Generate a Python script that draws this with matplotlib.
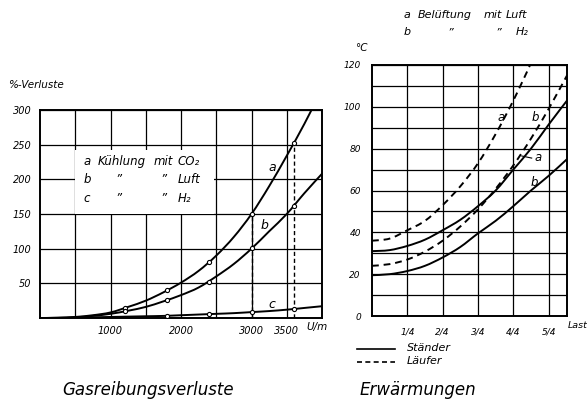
import matplotlib
matplotlib.use("Agg")
import matplotlib.pyplot as plt
from matplotlib.patches import Rectangle, PathPatch
from matplotlib.path import Path

# ---------------- data: left chart (Gasreibungsverluste) ----------------
rpm = [0, 250, 500, 750, 1000, 1250, 1500, 1750, 2000, 2250, 2500, 2750,
       3000, 3250, 3500, 3750, 4000]
loss_co2 = [0, 0.3, 1.5, 4, 8, 16, 25, 37, 51, 68, 90, 117, 150, 190, 234, 280, 330]
loss_luft = [0, 0.2, 1, 3, 6, 10.5, 16, 24, 33, 44, 60, 78, 100, 125, 150, 180, 208]
loss_h2 = [0, 0.2, 0.5, 1, 1.5, 2, 2.5, 3, 4, 5, 6, 7, 8.5, 10, 12, 14.5, 17]

pt_rpm = [1200, 1800, 2400, 3000, 3600]
pt_co2 = [15, 41, 81, 150, 252]
pt_luft = [10.5, 26, 52, 101, 162]
pt_rpm_h2 = [1800, 2400, 3000, 3600]
pt_h2 = [3.3, 5.2, 8, 12.8]

left_xticks = [500, 1000, 1500, 2000, 2500, 3000, 3500]
left_xlabels = ["", "1000", "", "2000", "", "3000", "3500"]
left_yticks = [50, 100, 150, 200, 250, 300]
left_ylabels = ["50", "100", "150", "200", "250", "300"]

# ---------------- data: right chart (Erwärmungen) ----------------
load = [0, 0.125, 0.25, 0.375, 0.5, 0.625, 0.75, 0.875, 1.0, 1.125, 1.25, 1.38]
staender_luft = [31, 31.5, 33.5, 36.5, 41, 46, 52.5, 60, 70, 80, 91.5, 103]
staender_h2 = [19.5, 20, 21.5, 24, 28, 33, 39.5, 45.5, 52.5, 60, 67, 75]
laeufer_luft = [36, 37, 41, 45.5, 53, 62, 73, 87, 103, 121, 141, 163]
laeufer_h2 = [24, 24.8, 27, 30.8, 36, 42.8, 51, 60.8, 72, 84.8, 99, 115]

right_xticks = [0.25, 0.5, 0.75, 1.0, 1.25]
right_xlabels = ["1/4", "2/4", "3/4", "4/4", "5/4"]
right_yticks = list(range(0, 121, 10))
right_ylabels = [str(v) if v % 20 == 0 else "" for v in right_yticks]

# ---------------- figure ----------------
W, H = 587, 400
fig = plt.figure(figsize=(W / 100, H / 100), dpi=100)
fig.patch.set_facecolor("white")
FAM = ["DejaVu Sans"]
IT = dict(family=FAM, style="italic", color="black")


def fx(px):
    return px / W


def fy(py):
    return 1 - py / H


def ftext(px, py, s, size, ha="left", va="center", **kw):
    fig.text(fx(px), fy(py), s, fontsize=size, ha=ha, va=va, **IT, **kw)


def smooth_curve(ax, xs, ys, **kw):
    """Draw a smooth (Catmull-Rom as cubic Bezier) line through the points."""
    pts = list(zip(xs, ys))
    n = len(pts)
    verts = [pts[0]]
    codes = [Path.MOVETO]
    for i in range(n - 1):
        p0 = pts[i - 1] if i > 0 else pts[i]
        p1 = pts[i]
        p2 = pts[i + 1]
        p3 = pts[i + 2] if i + 2 < n else pts[i + 1]
        c1 = (p1[0] + (p2[0] - p0[0]) / 6, p1[1] + (p2[1] - p0[1]) / 6)
        c2 = (p2[0] - (p3[0] - p1[0]) / 6, p2[1] - (p3[1] - p1[1]) / 6)
        verts += [c1, c2, p2]
        codes += [Path.CURVE4] * 3
    patch = PathPatch(Path(verts, codes), fill=False, **kw)
    ax.add_patch(patch)
    return patch


LW_CURVE = 1.4
GRID_LW = 0.9

# ----- left axes -----
axL = fig.add_axes([fx(40), fy(318), fx(322) - fx(40), fy(110) - fy(318)])
axL.set_xlim(0, 4000)
axL.set_ylim(0, 300)
axL.set_xticks(left_xticks)
axL.set_xticklabels(left_xlabels, fontsize=7, **IT)
axL.set_yticks(left_yticks)
axL.set_yticklabels(left_ylabels, fontsize=7, **IT)
axL.tick_params(length=0, pad=6)
axL.set_axisbelow(True)
axL.grid(True, color="black", lw=GRID_LW)
for s in axL.spines.values():
    s.set_linewidth(1.4)

axL.add_patch(Rectangle((500, 150), 1970, 93, facecolor="white",
                        edgecolor="none", zorder=1))

for series in (loss_co2, loss_luft, loss_h2):
    smooth_curve(axL, rpm, series, edgecolor="black", lw=LW_CURVE, zorder=3)
for xs, ys in ((pt_rpm, pt_co2), (pt_rpm, pt_luft), (pt_rpm_h2, pt_h2)):
    axL.plot(xs, ys, ls="none", marker="o", ms=3, mfc="white", mec="black",
             mew=0.8, zorder=4)
# dashed verticals up to curve a
for xv, yv in ((pt_rpm[3], pt_co2[3]), (pt_rpm[4], pt_co2[4])):
    axL.plot([xv, xv], [0, yv], color="black", lw=1.0, ls=(0, (3, 2)), zorder=2)

axL.text(3300, 217, "a", fontsize=9, ha="center", va="center", **IT, zorder=5)
axL.text(3180, 133, "b", fontsize=9, ha="center", va="center", **IT, zorder=5)
axL.text(3290, 19, "c", fontsize=9, ha="center", va="center", **IT, zorder=5)

rows = [(226, "a", "Kühlung", "mit", "CO₂"),
        (200, "b", "\u201d", "\u201d", "Luft"),
        (173, "c", "\u201d", "\u201d", "H₂")]
for yv, letter, w1, w2, gas in rows:
    axL.text(614, yv, letter, fontsize=8.5, ha="left", va="center", **IT, zorder=5)
    if w1 == "Kühlung":
        axL.text(814, yv, w1, fontsize=8.5, ha="left", va="center", **IT, zorder=5)
        axL.text(1610, yv, w2, fontsize=8.5, ha="left", va="center", **IT, zorder=5)
    else:
        axL.text(1114, yv, w1, fontsize=8.5, ha="center", va="center", **IT, zorder=5)
        axL.text(1757, yv, w2, fontsize=8.5, ha="center", va="center", **IT, zorder=5)
    axL.text(1950, yv, gas, fontsize=8.5, ha="left", va="center", **IT, zorder=5)

ftext(8, 85, "%-Verluste", 7.5)
ftext(306, 327, "U/m", 7.5)

# ----- right axes -----
axR = fig.add_axes([fx(372), fy(316), fx(567) - fx(372), fy(65) - fy(316)])
axR.set_xlim(0, 1.38)
axR.set_ylim(0, 120)
axR.set_xticks(right_xticks)
axR.set_xticklabels(right_xlabels, fontsize=6.5, **IT)
axR.set_yticks(right_yticks)
axR.set_yticklabels(right_ylabels, fontsize=6.5, **IT)
axR.tick_params(length=0, pad=8)
axR.set_axisbelow(True)
axR.grid(True, color="black", lw=GRID_LW)
for s in axR.spines.values():
    s.set_linewidth(1.4)

DASH = (0, (3.5, 2.5))
smooth_curve(axR, load, staender_luft, edgecolor="black", lw=LW_CURVE, zorder=3)
smooth_curve(axR, load, staender_h2, edgecolor="black", lw=LW_CURVE, zorder=3)
smooth_curve(axR, load, laeufer_luft, edgecolor="black", lw=LW_CURVE,
             linestyle=DASH, zorder=3)
smooth_curve(axR, load, laeufer_h2, edgecolor="black", lw=LW_CURVE,
             linestyle=DASH, zorder=3)

axR.text(0.915, 95, "a", fontsize=8.5, ha="center", va="center", **IT, zorder=5)
axR.text(1.155, 95, "b", fontsize=8.5, ha="center", va="center", **IT, zorder=5)
axR.plot([1.06, 1.13], [76.5, 75.5], color="black", lw=0.8, zorder=4)
axR.text(1.175, 76, "a", fontsize=8.5, ha="center", va="center", **IT, zorder=5)
axR.text(1.15, 64, "b", fontsize=8.5, ha="center", va="center", **IT, zorder=5)

ftext(355, 48, "°C", 7.5)
ftext(568, 325, "Last", 6.8)
ftext(404, 15, "a", 8)
ftext(418, 15, "Belüftung", 8)
ftext(484, 15, "mit", 8)
ftext(506, 15, "Luft", 8)
ftext(404, 32, "b", 8)
ftext(450, 32, "\u201d", 8, ha="center")
ftext(498, 32, "\u201d", 8, ha="center")
ftext(516, 32, "H₂", 8)

# bottom legend
fig.add_artist(plt.Line2D([fx(357), fx(395)], [fy(349), fy(349)],
                          color="black", lw=1.2))
fig.add_artist(plt.Line2D([fx(357), fx(395)], [fy(362), fy(362)],
                          color="black", lw=1.2, ls=(0, (3, 2))))
ftext(407, 348, "Ständer", 8)
ftext(407, 361, "Läufer", 8)

ftext(148, 390, "Gasreibungsverluste", 12, ha="center")
ftext(418, 390, "Erwärmungen", 12, ha="center")

fig.savefig("out.png", dpi=100, facecolor="white")
